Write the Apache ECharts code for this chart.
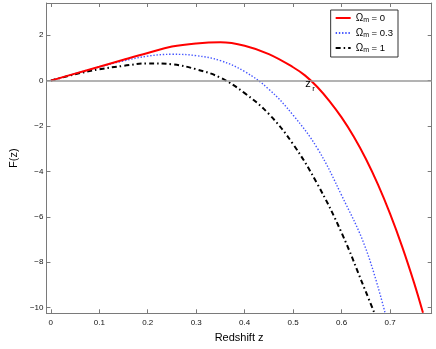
<!DOCTYPE html>
<html>
<head>
<meta charset="utf-8">
<script src="https://cdn.jsdelivr.net/npm/echarts@6/dist/echarts.min.js"></script>
<style>
  html, body { margin: 0; padding: 0; background: #fff; }
  #chart { width: 436px; height: 349px; }
</style>
</head>
<body>
<div id="chart"></div>
<script>
// values
const zRed = [0, 0.05, 0.1, 0.15, 0.2, 0.25, 0.3, 0.35, 0.4, 0.45, 0.5, 0.525, 0.55, 0.575, 0.6, 0.625, 0.65, 0.675, 0.7, 0.725, 0.75, 0.768]
const fRed = [0, 0.31, 0.61, 0.92, 1.22, 1.5, 1.64, 1.69, 1.54, 1.17, 0.59, 0.22, -0.28, -0.9, -1.62, -2.46, -3.44, -4.57, -5.86, -7.31, -8.93, -10.23]
const zBlue = [0, 0.05, 0.1, 0.15, 0.2, 0.25, 0.3, 0.35, 0.4, 0.45, 0.5, 0.55, 0.6, 0.65, 0.69]
const fBlue = [0, 0.31, 0.6, 0.87, 1.08, 1.16, 1.1, 0.88, 0.4, -0.38, -1.52, -2.98, -5.05, -7.4, -10.25]
const zBlack = [0, 0.05, 0.1, 0.15, 0.2, 0.25, 0.3, 0.35, 0.4, 0.45, 0.5, 0.55, 0.6, 0.65, 0.668]
const fBlack = [0, 0.28, 0.5, 0.65, 0.76, 0.72, 0.5, 0.13, -0.55, -1.47, -2.8, -4.55, -6.7, -9.3, -10.25]
const names = ['Ωm = 0', 'Ωm = 0.3', 'Ωm = 1']
const legendText = ['0', '0.3', '1']
const zCross = 0.537

const font = 'Liberation Sans, Arial, Helvetica, sans-serif'
const pairs = (xs, ys) => xs.map((x, i) => [x, ys[i]])
const minus = v => String(v).replace('-', '\u2212')

const myChart = echarts.init(document.getElementById('chart'))

const axisLine = { onZero: false, lineStyle: { color: '#7a7a7a', width: 1 } }
const tick = { inside: true, length: 4, lineStyle: { color: '#7a7a7a' } }

const option = {
  animation: false,
  grid: { left: 37.7, right: 4.3, top: 3, bottom: 35.7 },
  legend: {
    orient: 'vertical',
    right: 38,
    top: 10,
    data: names,
    backgroundColor: '#fff',
    borderColor: '#333',
    borderWidth: 1,
    borderRadius: 0,
    padding: [3, 5, 3, 4],
    itemGap: 4,
    itemWidth: 15,
    itemHeight: 10,
    itemStyle: { opacity: 0 },
    formatter: name => '{o|Ω}{s|m}{t| = ' + legendText[names.indexOf(name)] + '}',
    textStyle: {
      fontFamily: font,
      color: '#000',
      rich: {
        o: { fontSize: 10, fontFamily: font },
        s: { fontSize: 7, fontFamily: font, padding: [5, 0, 0, 0] },
        t: { fontSize: 9.5, fontFamily: font },
      },
    },
  },
  xAxis: [
    {
      type: 'value',
      min: -0.009,
      max: 0.786,
      minInterval: 0.1,
      maxInterval: 0.1,
      name: 'Redshift z',
      nameLocation: 'middle',
      nameGap: 19,
      nameTextStyle: { fontFamily: font, fontSize: 11, color: '#000' },
      axisLine: axisLine,
      axisTick: tick,
      splitLine: { show: false },
      axisLabel: {
        fontFamily: font,
        fontSize: 8,
        color: '#111',
        margin: 5,
        showMinLabel: false,
        showMaxLabel: false,
        formatter: v => (Math.abs(v * 10 - Math.round(v * 10)) < 1e-6 ? String(Math.round(v * 10) / 10) : ''),
      },
    },
    {
      type: 'value',
      position: 'top',
      min: -0.009,
      max: 0.786,
      minInterval: 0.1,
      maxInterval: 0.1,
      axisLine: axisLine,
      axisTick: tick,
      axisLabel: { show: false },
      splitLine: { show: false },
    },
  ],
  yAxis: [
    {
      type: 'value',
      min: -10.25,
      max: 3.42,
      minInterval: 2,
      maxInterval: 2,
      name: 'F(z)',
      nameLocation: 'middle',
      nameGap: 25,
      nameRotate: 90,
      nameTextStyle: { fontFamily: font, fontSize: 11, color: '#000' },
      axisLine: axisLine,
      axisTick: tick,
      splitLine: { show: false },
      axisLabel: {
        fontFamily: font,
        fontSize: 8,
        color: '#111',
        margin: 3,
        showMinLabel: false,
        showMaxLabel: false,
        formatter: v => (v % 2 === 0 ? minus(v) : ''),
      },
    },
    {
      type: 'value',
      position: 'right',
      min: -10.25,
      max: 3.42,
      minInterval: 2,
      maxInterval: 2,
      axisLine: axisLine,
      axisTick: tick,
      axisLabel: { show: false },
      splitLine: { show: false },
    },
  ],
  series: [
    {
      name: names[0],
      type: 'line',
      data: pairs(zRed, fRed),
      symbol: 'none',
      smooth: 0.4,
      z: 4,
      lineStyle: { color: '#ff0000', width: 2 },
      itemStyle: { color: '#ff0000' },
      markLine: {
        silent: true,
        symbol: 'none',
        label: { show: false },
        lineStyle: { color: '#9a9a9a', width: 1.6, type: 'solid' },
        data: [{ yAxis: 0 }],
      },
      markPoint: {
        silent: true,
        symbol: 'circle',
        symbolSize: 0,
        data: [
          { coord: [zCross, 0], label: { show: true, formatter: 'z', fontSize: 11, offset: [-3, 3] } },
          { coord: [zCross, 0], label: { show: true, formatter: 'r', fontSize: 8, offset: [2.5, 8.5] } },
        ],
        label: { fontFamily: font, color: '#000' },
      },
    },
    {
      name: names[1],
      type: 'line',
      data: pairs(zBlue, fBlue),
      symbol: 'none',
      smooth: 0.4,
      z: 3,
      lineStyle: { color: '#4455ff', width: 1.4, type: [1.4, 1.8] },
      itemStyle: { color: '#4455ff' },
    },
    {
      name: names[2],
      type: 'line',
      data: pairs(zBlack, fBlack),
      symbol: 'none',
      smooth: 0.4,
      z: 3,
      lineStyle: { color: '#000', width: 2, type: [5, 3, 1.5, 3] },
      itemStyle: { color: '#000' },
    },
  ],
}
myChart.setOption(option)
</script>
</body>
</html>
